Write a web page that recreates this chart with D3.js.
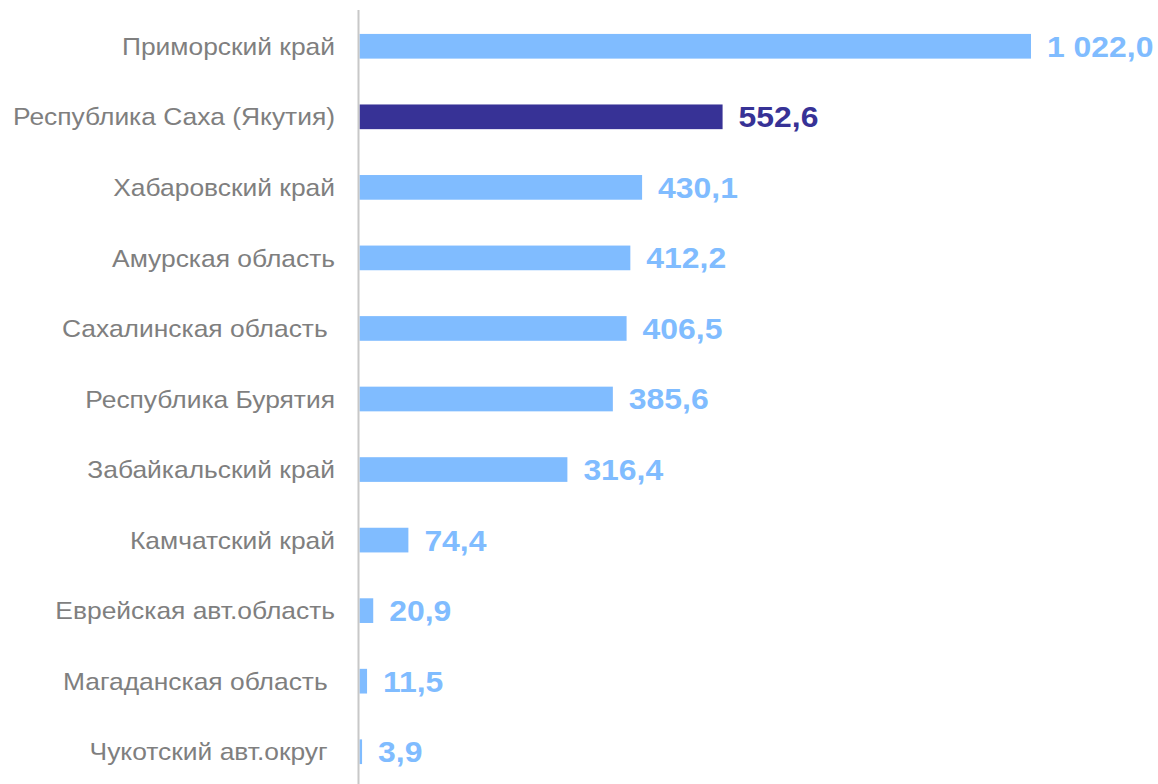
<!DOCTYPE html>
<html><head><meta charset="utf-8">
<script src="https://cdn.jsdelivr.net/npm/d3@7"></script>
<style>html,body{margin:0;padding:0;background:#fff;}svg{display:block;}</style>
</head><body>
<script>
const categories = ["Приморский край","Республика Саха (Якутия)","Хабаровский край","Амурская область","Сахалинская область ","Республика Бурятия","Забайкальский край","Камчатский край","Еврейская авт.область","Магаданская область ","Чукотский авт.округ "];
const values = [1022.0, 552.6, 430.1, 412.2, 406.5, 385.6, 316.4, 74.4, 20.9, 11.5, 3.9];
const highlight = ["Республика Саха (Якутия)"];

const W = 1158, H = 784;
const svg = d3.select("body").append("svg").attr("width", W).attr("height", H);
const fmt = v => d3.format(",.1f")(v).replace(/,/g, " ").replace(".", ",");

const x = d3.scaleLinear().domain([0, 1100]).range([359.5, 359.5 + 671.5 * 1100 / 1022]);
const y = d3.scaleBand().domain(categories).range([11, 787]).paddingInner(0.65).paddingOuter(0.325);

const light = "#80bcff", dark = "#373296";
const stretch = 1.1;

svg.append("g").selectAll("rect").data(values).join("rect")
  .attr("x", x(0)).attr("y", (d, i) => y(categories[i]))
  .attr("width", d => x(d) - x(0)).attr("height", y.bandwidth())
  .attr("fill", (d, i) => highlight.includes(categories[i]) ? dark : light);

svg.append("g").selectAll("text").data(values).join("text")
  .attr("transform", (d, i) => `translate(${x(d) + 16},${y(categories[i]) + y.bandwidth() / 2}) scale(${stretch},1)`)
  .attr("dy", "0.36em")
  .attr("font-family", "Liberation Sans, Arial, sans-serif").attr("font-weight", "bold")
  .attr("font-size", 29)
  .attr("fill", (d, i) => highlight.includes(categories[i]) ? dark : light)
  .text(d => fmt(d));

svg.append("g").selectAll("text").data(categories).join("text")
  .attr("transform", d => `translate(335,${y(d) + y.bandwidth() / 2}) scale(${stretch},1)`)
  .attr("dy", "0.36em").attr("text-anchor", "end")
  .style("white-space", "pre")
  .attr("font-family", "Liberation Sans, Arial, sans-serif")
  .attr("font-size", 24).attr("fill", "#7f7f7f")
  .text(d => d);

svg.append("line").attr("x1", 358.5).attr("x2", 358.5).attr("y1", 10).attr("y2", H)
  .attr("stroke", "#c8c8c8").attr("stroke-width", 2);
</script>
</body></html>
